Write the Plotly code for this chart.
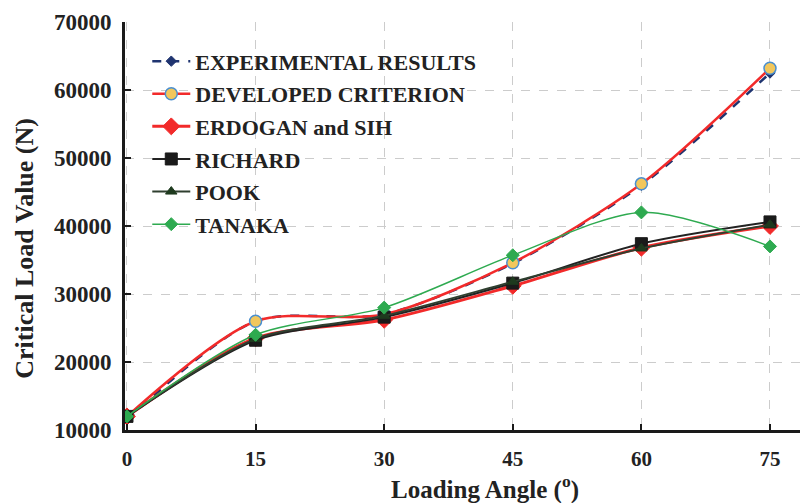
import plotly.graph_objects as go

angles = [0, 15, 30, 45, 60, 75]
experimental = [11500, 26000, 27000, 34500, 46000, 62500]
developed = [12000, 26000, 27000, 34600, 46200, 63200]
erdogan = [12000, 23500, 26200, 31200, 36800, 40000]
richard = [12000, 23200, 26600, 31600, 37400, 40600]
pook = [12000, 23400, 26800, 31800, 36700, 40200]
tanaka = [12000, 24000, 28000, 35700, 42000, 37000]
yticks = [10000, 20000, 30000, 40000, 50000, 60000, 70000]

fig = go.Figure()

def add(name, y, color, width, dash, symbol, msize, mfill, mline_color, mline_w=1):
    fig.add_trace(go.Scatter(
        x=angles, y=y, name="<b>%s</b>" % name, mode="lines+markers", legendgroup=name,
        line=dict(color=color, width=width, dash=dash, shape="spline", smoothing=0.8),
        marker=dict(symbol=symbol, size=msize, color=mfill,
                    line=dict(color=mline_color, width=mline_w)),
    ))

add("EXPERIMENTAL RESULTS", experimental, "#1F3470", 2.5, "dash", "diamond", 8, "#1F3470", "#1F3470")
add("DEVELOPED CRITERION", developed, "#F22A2A", 2.5, "solid", "circle", 12, "#F2C75C", "#4A8FD0", 1.5)
add("ERDOGAN and SIH", erdogan, "#F22A2A", 3, "solid", "diamond", 13, "#F22A2A", "#F22A2A")
add("RICHARD", richard, "#222222", 2, "solid", "square", 12, "#1A1A1A", "#1A1A1A")
add("POOK", pook, "#2F3F2F", 2, "solid", "triangle-up", 10, "#1E3A1E", "#1E3A1E")
add("TANAKA", tanaka, "#2EAA50", 1.5, "solid", "diamond", 10, "#2EAA50", "#2EAA50")

serif = "Liberation Serif"
fig.update_layout(
    width=802, height=503,
    margin=dict(l=125, r=2, t=22, b=73),
    plot_bgcolor="white", paper_bgcolor="white",
    font=dict(family=serif, size=20, color="#222222"),
    legend=dict(x=0.033, y=0.955, xanchor="left", yanchor="top",
                bgcolor="rgba(0,0,0,0)", font=dict(family=serif, size=22, color="#222222"),
                tracegroupgap=1, itemwidth=38),
    showlegend=True,
    annotations=[
        dict(text="<b>Critical Load Value (N)</b>", xref="paper", yref="paper",
             x=-0.15, y=0.446, xanchor="center", yanchor="middle", textangle=-90,
             showarrow=False, font=dict(family=serif, size=26, color="#222222")),
        dict(text="<b>Loading Angle (<sup>o</sup>)</b>", xref="paper", yref="paper",
             x=0.533, y=-0.14, xanchor="center", yanchor="middle",
             showarrow=False, font=dict(family=serif, size=25, color="#222222")),
    ],
)
fig.update_xaxes(
    range=[-0.23, 78.5], tickvals=angles, ticktext=["<b>%d</b>" % a for a in angles],
    showgrid=True, gridcolor="#CCCCCC", griddash="dash", gridwidth=1,
    showline=True, linecolor="#1A1A1A", linewidth=3, zeroline=False, automargin=False,
    ticks="inside", ticklen=6, tickwidth=2, tickcolor="#1A1A1A", ticklabelstandoff=8,
    tickfont=dict(family=serif, size=21, color="#222222"),
)
fig.update_yaxes(
    range=[10000, 70000], tickvals=yticks,
    ticktext=["<b>%d</b>" % v for v in yticks],
    showgrid=True, gridcolor="#CCCCCC", griddash="dash", gridwidth=1,
    showline=True, linecolor="#1A1A1A", linewidth=3, zeroline=False, automargin=False,
    ticks="inside", ticklen=6, tickwidth=2, tickcolor="#1A1A1A", ticklabelstandoff=6,
    tickfont=dict(family=serif, size=23, color="#222222"),
)

fig.write_html("out.html", config={"displayModeBar": False},
               post_script="document.body.style.margin='0';document.body.style.overflow='hidden';")
